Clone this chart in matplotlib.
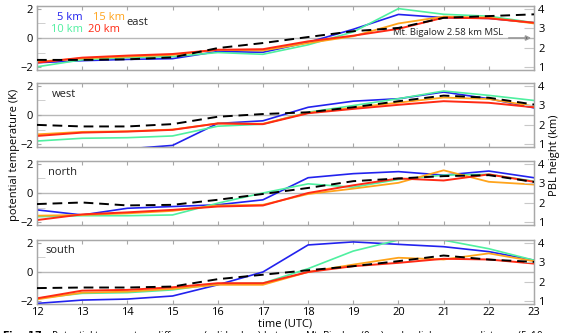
import numpy as np
import matplotlib
matplotlib.use("Agg")
import matplotlib.pyplot as plt

plt.rcParams['font.family'] = ['Open Sans', 'DejaVu Sans']

hours = np.arange(12, 24)

# potential temperature difference (K), per direction, per distance
east = {
    '5 km':  [-1.70, -1.56, -1.47, -1.42, -0.93, -0.98, -0.30, 0.60, 1.62, 1.40, 1.35, 1.05],
    '10 km': [-1.98, -1.50, -1.35, -1.28, -1.00, -1.12, -0.47, 0.42, 2.02, 1.63, 1.50, 1.05],
    '15 km': [-1.63, -1.40, -1.28, -1.16, -0.81, -0.86, -0.35, 0.12, 1.00, 1.47, 1.40, 1.00],
    '20 km': [-1.70, -1.35, -1.21, -1.10, -0.81, -0.77, -0.23, 0.16, 0.63, 1.40, 1.35, 1.05],
}
west = {
    '5 km':  [-2.33, -2.30, -2.33, -2.09, -0.58, -0.40, 0.53, 0.95, 1.12, 1.58, 1.12, 0.49],
    '10 km': [-1.79, -1.60, -1.56, -1.44, -0.77, -0.63, 0.19, 0.65, 1.12, 1.65, 1.35, 1.00],
    '15 km': [-1.33, -1.16, -1.12, -1.00, -0.58, -0.60, 0.15, 0.50, 0.85, 1.20, 1.10, 0.60],
    '20 km': [-1.44, -1.21, -1.14, -1.02, -0.58, -0.63, 0.12, 0.42, 0.70, 0.95, 0.84, 0.53],
}
north = {
    '5 km':  [-1.16, -1.51, -1.05, -0.93, -0.81, -0.47, 1.05, 1.33, 1.47, 1.23, 1.51, 1.05],
    '10 km': [-1.63, -1.56, -1.56, -1.51, -0.70, 0.00, 0.63, 0.40, 0.93, 1.23, 1.28, 0.81],
    '15 km': [-1.56, -1.51, -1.40, -1.23, -0.86, -0.81, -0.07, 0.30, 0.70, 1.56, 0.77, 0.58],
    '20 km': [-1.86, -1.47, -1.33, -1.16, -0.93, -0.86, 0.00, 0.53, 1.00, 0.86, 1.28, 0.77],
}
south = {
    '5 km':  [-2.16, -1.93, -1.86, -1.65, -0.88, 0.00, 1.86, 2.07, 1.90, 1.74, 1.40, 0.81],
    '10 km': [-1.81, -1.47, -1.42, -1.23, -0.81, -0.77, 0.23, 1.44, 2.20, 2.19, 1.60, 0.81],
    '15 km': [-1.88, -1.42, -1.35, -1.16, -0.88, -0.88, 0.00, 0.51, 0.98, 0.86, 1.28, 0.74],
    '20 km': [-1.81, -1.28, -1.23, -1.05, -0.77, -0.77, 0.00, 0.40, 0.63, 0.91, 0.86, 0.58],
}

# PBL height (km), dashed
pbl_east = [1.37, 1.37, 1.40, 1.50, 1.98, 2.24, 2.55, 2.85, 3.02, 3.54, 3.63, 3.72]
pbl_west = [1.99, 1.91, 1.91, 2.03, 2.41, 2.55, 2.64, 2.90, 3.21, 3.50, 3.39, 3.04]
pbl_north = [1.93, 2.01, 1.86, 1.89, 2.15, 2.45, 2.76, 3.11, 3.25, 3.37, 3.42, 3.07]
pbl_south = [1.67, 1.70, 1.70, 1.75, 2.13, 2.36, 2.59, 2.80, 3.06, 3.35, 3.14, 3.02]

panels = [('east', east, pbl_east), ('west', west, pbl_west),
          ('north', north, pbl_north), ('south', south, pbl_south)]
colors = {'5 km': '#2222ee', '10 km': '#4ff0a0', '15 km': '#ffa41c', '20 km': '#ff2a14'}
widths = {'5 km': 1.2, '10 km': 1.2, '15 km': 1.3, '20 km': 1.4}

W, H = 563, 333
fig = plt.figure(figsize=(W / 100, H / 100), dpi=100)
tops = [6, 83, 161, 240]
ph = 64
x0, x1 = 37, 534
gray = '#a8a8a8'

for i, (name, temp, pbl) in enumerate(panels):
    top = tops[i]
    ax = fig.add_axes([x0 / W, 1 - (top + ph) / H, (x1 - x0) / W, ph / H])
    ax.axhline(0, color='#b8b8b8', lw=1.0, zorder=1)
    for k in ['5 km', '10 km', '15 km', '20 km']:
        ax.plot(hours, temp[k], color=colors[k], lw=widths[k], zorder=3)
    ax.set_xlim(12, 23)
    ax.set_ylim(-2.2, 2.2)
    ax.set_yticks([-2, 0, 2])
    ax.set_yticks([-1, 1], minor=True)
    ax.set_xticks(hours)
    ax.tick_params(axis='x', direction='in', length=3, color=gray, top=True,
                   labelsize=8, pad=2.5)
    ax.tick_params(axis='y', which='major', direction='in', length=3, color=gray,
                   labelsize=8, pad=3)
    ax.tick_params(axis='y', which='minor', direction='in', length=6, color='#c8c8c8')
    if i < 3:
        ax.tick_params(axis='x', labelbottom=False)
    for s in ax.spines.values():
        s.set_color(gray)
        s.set_linewidth(0.9)

    ax2 = ax.twinx()
    ax2.plot(hours, pbl, color='black', lw=1.4, ls=(0, (5, 3)), zorder=4)
    ax2.set_ylim(0.85, 4.15)
    ax2.set_yticks([1, 2, 3, 4])
    ax2.tick_params(axis='y', direction='in', length=7, color='#c8c8c8',
                    labelsize=8, pad=3)
    for s in ax2.spines.values():
        s.set_color(gray)
        s.set_linewidth(0.9)

    if name == 'east':
        ax.text(0.04, 0.82, '5 km', color=colors['5 km'], fontsize=8,
                transform=ax.transAxes, va='center')
        ax.text(0.113, 0.82, '15 km', color=colors['15 km'], fontsize=8,
                transform=ax.transAxes, va='center')
        ax.text(0.028, 0.64, '10 km', color=colors['10 km'], fontsize=8,
                transform=ax.transAxes, va='center')
        ax.text(0.103, 0.64, '20 km', color=colors['20 km'], fontsize=8,
                transform=ax.transAxes, va='center')
        ax.text(0.18, 0.74, 'east', color='#222222', fontsize=8,
                transform=ax.transAxes, va='center')
        ax.text(22.32, 0.04, 'Mt. Bigalow 2.58 km MSL', fontsize=6.8,
                color='#222222', ha='right', va='bottom')
        ax.annotate('', xy=(23, 0), xytext=(22.38, 0),
                    arrowprops=dict(arrowstyle='-|>', color='#999999', lw=1.2,
                                    mutation_scale=7, fc='black', ec='#999999'),
                    zorder=5)
    else:
        ypos = {'west': 0.82, 'north': 0.82, 'south': 0.84}[name]
        xpos = {'west': 0.03, 'north': 0.022, 'south': 0.016}[name]
        ax.text(xpos, ypos, name, color='#222222', fontsize=8,
                transform=ax.transAxes, va='center')

fig.text(15 / W, 1 - 155 / H, 'potential temperature (K)', rotation=90,
         ha='center', va='center', fontsize=8)
fig.text(554 / W, 1 - 155 / H, 'PBL height (km)', rotation=90,
         ha='center', va='center', fontsize=8)
fig.text(285 / W, 1 - 324 / H, 'time (UTC)', ha='center', va='center', fontsize=8)
# caption, cut off at the bottom edge as in the source
fig.text(2 / W, 1 - 329.5 / H,
         r'$\bf{Fig.\ 17:}$ Potential temperature difference (solid colors) between '
         'Mt. Bigalow (0 m) and radial compass distance (5, 10',
         ha='left', va='top', fontsize=7)

fig.savefig('out.png', dpi=100)
